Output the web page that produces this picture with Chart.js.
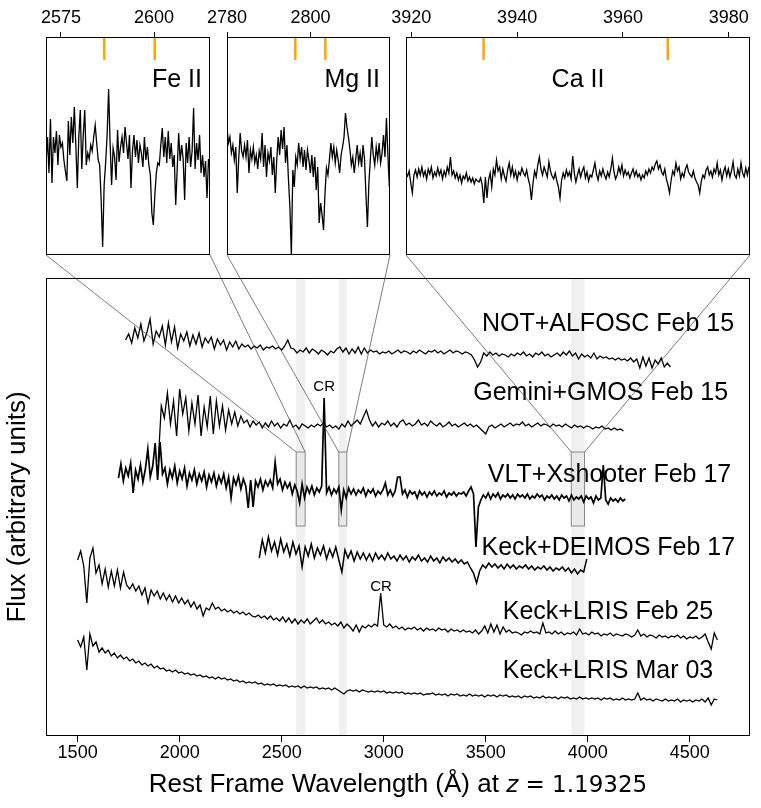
<!DOCTYPE html>
<html>
<head>
<meta charset="utf-8">
<script src="https://cdn.jsdelivr.net/npm/chart.js@4.4.0/dist/chart.umd.min.js"></script>
<style>
  html, body { margin: 0; padding: 0; background: #fff; }
  #wrap { position: relative; width: 761px; height: 808px; overflow: hidden; }
  #wrap canvas { position: absolute; }
  #xtitle { position: absolute; left: 46px; width: 704px; top: 768px; line-height: 30px; text-align: center;
            font: 26px "Liberation Sans", Arial, sans-serif; color: #000; }
  #xtitle .m { font-family: "DejaVu Sans", sans-serif; font-size: 23px; }
</style>
</head>
<body>
<div id="wrap">
  <canvas id="main" width="761" height="538" style="left:0;top:270px"></canvas>
  <canvas id="fe" width="214" height="262" style="left:21px;top:0"></canvas>
  <canvas id="mg" width="213" height="262" style="left:202px;top:0"></canvas>
  <canvas id="ca" width="380" height="262" style="left:381px;top:0"></canvas>
  <canvas id="links" width="761" height="808" style="left:0;top:0;pointer-events:none"></canvas>
  <div id="xtitle">Rest Frame Wavelength (Å) at <span class="m"><i>z</i> = 1.19325</span></div>
</div>

<script>
// ---- data (flux in arbitrary offset units, wavelengths in rest-frame Å) ----
const xTicksMain = [1500, 2000, 2500, 3000, 3500, 4000, 4500];
const specNames = ['NOT+ALFOSC Feb 15', 'Gemini+GMOS Feb 15', 'VLT+Xshooter Feb 17',
                   'Keck+DEIMOS Feb 17', 'Keck+LRIS Feb 25', 'Keck+LRIS Mar 03'];

const notStart = 1735, notStep = 15;
const notFlux = [396,402,393,408,398,412,395,404,417,392,405,399,410,391,413,394,409,388,402,395,
  404,390,401,392,403,389,398,393,399,387,397,391,396,386,394,389,395,387,392,389,
  391,387,390,388,391,386,389,388,390,387,389,386,390,396,388,387,383,386,384,388,
  383,387,385,382,386,384,381,385,383,387,389,384,388,382,387,383,389,382,388,383,
  386,384,385,382,384,383,385,382,384,386,383,385,384,382,385,383,386,384,382,385,
  384,386,383,385,382,384,386,383,385,384,382,384,383,381,376,369,374,383,380,384,
  381,383,380,382,381,379,382,380,383,381,384,380,382,379,383,381,384,380,382,379,
  381,383,380,384,381,385,380,383,377,382,379,381,378,383,377,380,378,379,377,378,
  376,378,376,377,375,378,374,377,368,379,370,378,368,376,372,378,369,373,369];

const gemStart = 1895, gemStep = 15;
const gemFlux = [274,330,318,343,312,335,300,347,322,338,305,333,312,341,300,329,309,340,302,335,
  310,330,306,326,312,324,310,320,313,316,309,315,311,314,308,313,309,315,310,313,
  308,312,310,316,309,311,307,312,310,308,311,309,312,310,313,309,311,308,310,307,
  312,309,315,310,313,316,312,319,326,316,310,314,309,313,311,315,310,313,309,314,
  316,311,313,310,312,316,311,313,310,315,312,310,313,309,311,314,310,312,309,311,
  313,310,312,309,311,308,305,302,309,311,308,310,312,309,311,313,310,312,311,314,
  310,312,309,311,313,310,312,311,309,312,310,311,309,312,310,308,311,309,310,308,
  310,309,307,309,308,310,307,308,306,308,306,307,305];

const xshStart = 1700, xshStep = 12;
const xshFlux = [258,272,255,268,260,273,243,266,257,271,254,267,287,259,270,293,256,294,262,268,
  252,266,258,270,253,265,257,268,250,263,256,266,252,262,255,264,249,261,254,263,
  250,260,253,262,248,259,238,258,251,260,247,257,250,228,256,229,255,249,257,246,
  255,250,256,248,274,252,257,246,254,248,253,242,251,245,233,252,238,249,243,250,
  241,248,244,250,338,243,249,241,247,243,249,226,246,238,248,242,247,241,246,243,
  248,240,246,243,247,240,245,242,246,253,241,246,240,245,259,259,242,246,239,245,
  242,244,238,245,241,244,239,244,241,245,240,243,241,245,239,243,241,244,240,243,
  242,244,240,245,249,242,189,229,236,241,238,243,237,242,239,243,237,241,239,242,
  238,241,237,242,239,241,238,242,237,240,238,242,239,241,236,240,238,241,237,240,
  236,241,238,240,235,241,236,239,237,240,234,240,237,239,233,240,236,238,271,236,
  232,238,235,237,234,238,235,237];

const deiStart = 2390, deiStep = 15;
const deiFlux = [178,196,183,199,185,194,181,197,184,192,180,194,182,190,169,189,180,192,178,188,
  181,190,177,187,179,189,176,164,186,178,185,175,184,177,183,176,182,175,183,177,
  181,176,183,177,180,175,181,176,180,174,179,176,181,175,178,174,180,175,178,173,
  179,175,178,174,177,173,176,172,174,168,163,153,165,171,168,173,169,172,168,171,
  167,172,168,171,167,170,168,171,167,170,166,169,167,170,166,169,165,168,166,169,
  165,168,163,167,162,166,164,177];

const lrisStart = 1500, lrisStep = 15;
const lris25Flux = [176,185,170,133,178,188,163,171,152,167,149,165,150,166,148,164,151,147,152,145,
  150,141,148,133,146,140,145,137,143,136,141,134,140,133,138,132,136,129,134,127,
  131,120,128,126,133,127,129,125,127,124,126,123,125,122,124,121,123,120,119,121,
  118,120,117,120,116,118,115,119,114,118,113,117,112,116,113,117,112,115,118,113,
  116,112,114,111,113,110,114,108,112,109,105,111,104,110,108,111,109,112,110,143,
  111,109,112,108,110,107,109,106,108,107,109,106,108,105,108,106,107,105,108,106,
  107,104,107,105,106,104,106,104,105,103,106,102,105,110,103,112,104,111,102,109,
  104,106,103,104,103,101,104,103,105,103,104,102,113,103,104,102,105,102,104,101,
  103,102,104,101,107,102,103,101,104,102,103,100,102,101,103,100,102,101,100,102,
  101,99,101,106,100,102,99,101,100,98,101,99,100,98,100,99,101,98,100,97,
  99,98,100,97,99,102,94,87,103,96];
const lris03Flux = [96,89,99,66,102,90,94,84,88,83,86,80,83,78,81,77,79,75,77,73,
  75,71,73,70,72,68,70,67,68,65,66,64,66,63,64,62,63,61,62,60,
  61,59,60,58,59,57,59,57,58,56,57,55,56,54,55,53,54,53,54,52,
  53,51,52,51,52,50,51,50,51,49,50,49,50,48,50,48,49,48,49,47,
  48,47,48,46,48,46,44,42,45,46,45,46,44,46,45,44,45,44,45,44,
  45,43,44,43,44,43,44,42,43,42,43,42,43,41,42,42,43,41,42,41,
  42,40,42,41,42,40,41,40,42,40,41,40,41,39,41,40,41,39,41,40,
  41,39,40,39,40,38,40,39,40,38,39,38,40,38,39,38,39,37,39,38,
  39,37,38,37,39,37,38,37,38,37,38,36,38,37,38,36,37,36,38,36,
  37,36,37,43,36,38,36,37,35,37,36,35,37,35,36,35,37,34,36,35,
  36,34,36,35,37,34,38,31,37,36];

// zoomed windows: [min, max] in Å, and the absorption lines marked in orange
const zoomRanges = [[2571, 2615], [2780, 2819], [3919, 3984]];
const zoomNames = ['Fe II', 'Mg II', 'Ca II'];
const zoomLines = [[2586.65, 2600.17], [2796.35, 2803.53], [3933.66, 3968.47]];
const zoomTicks = [[2575, 2600], [2780, 2800], [3920, 3940, 3960, 3980]];
const boxFlux = [210, 284];

const feStart = 2571, feStep = 0.4;
const feFlux = [92,118,82,136,72,118,102,124,90,120,108,112,95,84,74,134,100,138,112,148,
  110,67,118,145,86,120,145,90,102,96,110,104,118,130,112,95,90,55,8,70,
  92,120,166,112,70,107,98,75,125,93,108,118,102,128,112,96,120,67,104,120,
  98,115,92,110,102,88,118,95,108,90,80,42,30,60,82,92,90,110,127,98,
  118,92,124,96,112,88,100,50,86,122,94,110,96,55,112,92,118,88,104,147,
  86,112,95,120,82,100,78,94,57,96,85];

const mgStart = 2780, mgStep = 0.35;
const mgFlux = [127,112,118,102,110,95,108,62,96,122,104,98,110,98,115,82,105,96,108,92,
  100,86,104,96,122,88,110,78,102,94,108,80,98,62,95,118,100,125,106,128,
  92,110,76,48,0,85,68,98,90,112,96,108,88,105,85,105,95,82,100,78,
  98,65,88,32,52,40,25,62,87,80,95,112,98,108,92,105,95,82,100,108,
  118,142,128,118,106,90,98,82,96,110,92,102,88,110,96,60,28,72,96,118,
  100,90,108,96,112,92,102,120,98,137,100,68];

const caStart = 3919, caStep = 0.3;
const caFlux = [82,79,84,72,62,80,85,78,86,80,88,79,84,76,86,81,88,77,83,79,
  87,80,85,76,84,79,88,82,98,80,84,77,82,75,80,72,79,76,82,74,
  78,73,77,71,76,74,73,77,70,52,78,57,75,82,68,86,80,95,84,88,
  76,86,79,74,85,92,80,88,78,84,75,83,80,87,82,79,85,76,70,55,
  72,84,78,90,98,86,80,88,83,78,93,84,79,76,82,74,68,57,75,82,
  77,85,79,83,76,99,82,73,80,86,78,84,88,77,83,74,80,78,85,92,
  81,75,84,79,86,80,76,83,78,86,97,83,76,80,88,82,90,79,85,80,
  83,77,82,86,79,84,78,81,75,80,77,84,80,86,82,88,85,91,94,86,
  90,83,80,86,76,70,62,75,84,80,92,84,88,76,82,78,86,90,83,80,
  78,84,77,73,70,62,74,80,77,85,88,80,84,78,86,82,92,80,85,75,
  83,88,79,86,78,84,93,80,77,86,79,92,82,78,87,80,88];

// ---- helpers ----
const FONT = '"Liberation Sans", Arial, Helvetica, sans-serif';

function toPoints(start, step, flux) {
    return flux.map((v, i) => ({ x: start + i * step, y: v }));
}

function lineSet(start, step, flux, width) {
    return {
        data: toPoints(start, step, flux),
        borderColor: '#000',
        borderWidth: width || 1.3,
        pointRadius: 0,
        tension: 0,
        fill: false
    };
}

// black frame round the plot area
const framePlugin = {
    id: 'frame',
    afterDraw(chart) {
        const a = chart.chartArea, ctx = chart.ctx;
        ctx.save();
        ctx.strokeStyle = '#000';
        ctx.lineWidth = 1;
        ctx.strokeRect(a.left + 0.5, a.top + 0.5, a.right - a.left - 1, a.bottom - a.top - 1);
        ctx.restore();
    }
};

// grey bands, boxes and text labels on the main panel
const mainDecor = {
    id: 'mainDecor',
    beforeDatasetsDraw(chart) {
        const ctx = chart.ctx, x = chart.scales.x, y = chart.scales.y, a = chart.chartArea;
        ctx.save();
        zoomRanges.forEach(r => {
            const x0 = x.getPixelForValue(r[0]), x1 = x.getPixelForValue(r[1]);
            ctx.fillStyle = '#f0f0f0';
            ctx.fillRect(x0, a.top, x1 - x0, a.bottom - a.top);
        });
        zoomRanges.forEach(r => {
            const x0 = x.getPixelForValue(r[0]), x1 = x.getPixelForValue(r[1]);
            const y0 = y.getPixelForValue(boxFlux[1]), y1 = y.getPixelForValue(boxFlux[0]);
            ctx.fillStyle = '#e9e9e9';
            ctx.fillRect(x0, y0, x1 - x0, y1 - y0);
            ctx.strokeStyle = '#888';
            ctx.lineWidth = 1;
            ctx.strokeRect(x0, y0, x1 - x0, y1 - y0);
        });
        ctx.restore();
    },
    afterDatasetsDraw(chart, args, opts) {
        const ctx = chart.ctx, x = chart.scales.x, y = chart.scales.y;
        ctx.save();
        ctx.fillStyle = '#000';
        ctx.textBaseline = 'alphabetic';
        ctx.font = '25px ' + FONT;
        ctx.textAlign = 'right';
        specNames.forEach((name, i) => {
            const p = opts.nameAt[i];
            ctx.fillText(name, x.getPixelForValue(p[0]), y.getPixelForValue(p[1]));
        });
        ctx.font = '15px ' + FONT;
        ctx.textAlign = 'center';
        opts.crAt.forEach(p => {
            ctx.fillText('CR', x.getPixelForValue(p[0]), y.getPixelForValue(p[1]));
        });
        ctx.restore();
    }
};

// orange line markers and the ion label in each inset
const insetDecor = {
    id: 'insetDecor',
    afterDatasetsDraw(chart, args, opts) {
        const ctx = chart.ctx, x = chart.scales.x, a = chart.chartArea;
        ctx.save();
        ctx.strokeStyle = '#FFA500';
        ctx.lineWidth = 2.5;
        opts.lines.forEach(w => {
            const px = x.getPixelForValue(w);
            ctx.beginPath();
            ctx.moveTo(px, a.top);
            ctx.lineTo(px, a.top + 23);
            ctx.stroke();
        });
        ctx.fillStyle = '#000';
        ctx.font = '25px ' + FONT;
        ctx.textBaseline = 'alphabetic';
        if (opts.align === 'center') {
            ctx.textAlign = 'center';
            ctx.fillText(opts.name, (a.left + a.right) / 2, a.top + 50);
        } else {
            ctx.textAlign = 'right';
            ctx.fillText(opts.name, a.right - opts.inset, a.top + 50);
        }
        ctx.restore();
    }
};

// ---- main panel ----
const mainChart = new Chart(document.getElementById('main'), {
    type: 'line',
    data: {
        datasets: [
            lineSet(notStart, notStep, notFlux),
            lineSet(gemStart, gemStep, gemFlux),
            lineSet(xshStart, xshStep, xshFlux, 1.7),
            lineSet(deiStart, deiStep, deiFlux, 1.5),
            lineSet(lrisStart, lrisStep, lris25Flux),
            lineSet(lrisStart, lrisStep, lris03Flux)
        ]
    },
    options: {
        responsive: false,
        animation: false,
        devicePixelRatio: 1,
        layout: { padding: { top: 8, right: 11, left: 0, bottom: 0 } },
        plugins: {
            legend: { display: false },
            tooltip: { enabled: false },
            mainDecor: {
                nameAt: [[4717, 405], [4688, 336], [4703, 254], [4722, 181], [4615, 117], [4615, 58]],
                crAt: [[2708, 345], [2987, 145]]
            }
        },
        scales: {
            x: {
                type: 'linear',
                min: 1345,
                max: 4795,
                afterBuildTicks: s => { s.ticks = xTicksMain.map(v => ({ value: v })); },
                afterFit: s => { s.height = 72; },
                ticks: { autoSkip: false, maxRotation: 0, padding: 0, color: '#000',
                         font: { family: FONT, size: 18 }, callback: v => String(v) },
                grid: { display: true, drawOnChartArea: false, drawTicks: true, tickLength: 6,
                        color: '#000' },
                border: { display: false }
            },
            y: {
                min: 0,
                max: 458,
                afterFit: s => { s.width = 46; },
                ticks: { display: false },
                grid: { display: false },
                border: { display: false },
                title: { display: true, text: 'Flux (arbitrary units)', color: '#000',
                         font: { family: FONT, size: 26 }, padding: { top: 2, bottom: 0 } }
            }
        }
    },
    plugins: [mainDecor, framePlugin]
});

// ---- zoomed insets ----
function makeInset(id, k, start, step, flux, padRight, align, inset) {
    return new Chart(document.getElementById(id), {
        type: 'line',
        data: { datasets: [lineSet(start, step, flux, 1.3)] },
        options: {
            responsive: false,
            animation: false,
            devicePixelRatio: 1,
            layout: { padding: { top: 0, right: padRight, left: 25, bottom: 7 } },
            plugins: {
                legend: { display: false },
                tooltip: { enabled: false },
                insetDecor: { lines: zoomLines[k], name: zoomNames[k], align: align, inset: inset }
            },
            scales: {
                x: {
                    type: 'linear',
                    position: 'top',
                    min: zoomRanges[k][0],
                    max: zoomRanges[k][1],
                    afterBuildTicks: s => { s.ticks = zoomTicks[k].map(v => ({ value: v })); },
                    afterFit: s => { s.height = 37; },
                    ticks: { autoSkip: false, maxRotation: 0, padding: 3, color: '#000',
                             font: { family: FONT, size: 18 }, callback: v => String(v) },
                    grid: { display: true, drawOnChartArea: false, drawTicks: true, tickLength: 5,
                            color: '#000' },
                    border: { display: false }
                },
                y: { display: false, min: 0, max: 218 }
            }
        },
        plugins: [insetDecor, framePlugin]
    });
}

const insets = [
    { chart: makeInset('fe', 0, feStart, feStep, feFlux, 25, 'right', 8), left: 21 },
    { chart: makeInset('mg', 1, mgStart, mgStep, mgFlux, 25, 'right', 10), left: 202 },
    { chart: makeInset('ca', 2, caStart, caStep, caFlux, 11, 'center', 0), left: 381 }
];

// ---- thin connectors from each box to its inset ----
function drawLinks() {
    const ctx = document.getElementById('links').getContext('2d');
    const mainTop = 270, mainLeft = 0;
    const x = mainChart.scales.x, y = mainChart.scales.y;
    ctx.strokeStyle = '#444';
    ctx.lineWidth = 0.7;
    insets.forEach((ins, k) => {
        const a = ins.chart.chartArea;
        const bx0 = mainLeft + x.getPixelForValue(zoomRanges[k][0]);
        const bx1 = mainLeft + x.getPixelForValue(zoomRanges[k][1]);
        const by = mainTop + y.getPixelForValue(boxFlux[1]);
        ctx.beginPath();
        ctx.moveTo(ins.left + a.left, a.bottom);
        ctx.lineTo(bx0, by);
        ctx.moveTo(ins.left + a.right, a.bottom);
        ctx.lineTo(bx1, by);
        ctx.stroke();
    });
}
drawLinks();
</script>
</body>
</html>
